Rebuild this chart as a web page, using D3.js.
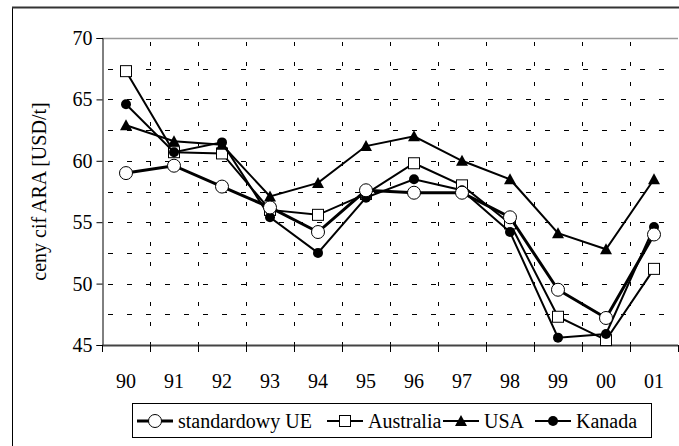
<!DOCTYPE html>
<html><head><meta charset="utf-8">
<script src="https://cdn.jsdelivr.net/npm/d3@7"></script>
<style>html,body{margin:0;padding:0;background:#fff;}svg{display:block;}</style>
</head><body>
<svg id="c" width="679" height="446"></svg>
<script>
const categories = ["90","91","92","93","94","95","96","97","98","99","00","01"];
const standardowyUE = [59.0,59.6,57.9,56.2,54.2,57.6,57.4,57.4,55.4,49.5,47.2,54.0];
const australia = [67.3,60.7,60.6,56.0,55.6,57.3,59.8,58.0,54.9,47.3,45.4,51.2];
const usa = [62.9,61.6,61.3,57.1,58.2,61.2,62.0,60.0,58.5,54.1,52.8,58.5];
const kanada = [64.6,60.7,61.5,55.4,52.5,57.0,58.5,57.6,54.2,45.6,45.9,54.6];
const yTicks = [45,50,55,60,65,70];
const yGrid = [47.5,50,52.5,55,57.5,60,62.5,65,67.5];
const seriesNames = ["standardowy UE","Australia","USA","Kanada"];

const svg = d3.select("#c");
const font = "'Liberation Serif','Times New Roman',serif";
const L=102,R=678,T=38,B=345;
const x = d3.scaleBand().domain(categories).range([L,R]).paddingInner(0).paddingOuter(0);
const cx = c => x(c)+x.bandwidth()/2;
const y = d3.scaleLinear().domain([45,70]).range([B,T]);

// outer frame
svg.append("rect").attr("x",12.5).attr("y",7.5).attr("width",720).attr("height",480)
  .attr("fill","none").attr("stroke","#000").attr("stroke-width",1);
svg.append("line").attr("x1",12).attr("x2",679).attr("y1",7.5).attr("y2",7.5)
  .attr("stroke","#333").attr("stroke-width",2);

// grid
const g = svg.append("g");
g.selectAll(".hg").data(yGrid).join("line")
  .attr("x1",L).attr("x2",R).attr("y1",d=>Math.round(y(d))+0.5).attr("y2",d=>Math.round(y(d))+0.5)
  .attr("stroke","#000").attr("stroke-width",1).attr("stroke-dasharray","5,14").attr("stroke-dashoffset",-6);
const vb = categories.slice(1).map(c=>x(c));
g.selectAll(".vg").data(vb).join("line")
  .attr("x1",d=>d+0.5).attr("x2",d=>d+0.5).attr("y1",T).attr("y2",B)
  .attr("stroke","#000").attr("stroke-width",1).attr("stroke-dasharray","4,16").attr("stroke-dashoffset",-4);
// top border
g.append("line").attr("x1",L).attr("x2",R).attr("y1",T+0.5).attr("y2",T+0.5)
  .attr("stroke","#999").attr("stroke-width",1.5);

// axes
const yAxis = d3.axisLeft(y).tickValues(yTicks).tickSize(6).tickPadding(4);
const ya = svg.append("g").attr("transform",`translate(${L+0.5},0)`).call(yAxis);
ya.select(".domain").attr("stroke","#000");
ya.selectAll("text").attr("font-family",font).attr("font-size",20).attr("fill","#000");
const xb = categories.map(c=>x(c)).concat([R]);
svg.append("line").attr("x1",L).attr("x2",R).attr("y1",B+0.5).attr("y2",B+0.5)
  .attr("stroke","#444").attr("stroke-width",2);
svg.selectAll(".xt").data(xb).join("line")
  .attr("x1",d=>d+0.5).attr("x2",d=>d+0.5).attr("y1",B).attr("y2",B+7).attr("stroke","#000");
svg.selectAll(".xl").data(categories).join("text")
  .attr("x",d=>cx(d)).attr("y",388).attr("text-anchor","middle")
  .attr("font-family",font).attr("font-size",20).text(d=>d);

svg.append("text").attr("transform",`translate(46,${(T+B)/2}) rotate(-90)`)
  .attr("text-anchor","middle").attr("font-family",font).attr("font-size",20)
  .text("ceny cif ARA [USD/t]");

// series
const line = d3.line().x((d,i)=>cx(categories[i])).y(d=>y(d));
function marker(sel, type, px, py){
  if(type==="circleOpen") sel.append("circle").attr("cx",px).attr("cy",py).attr("r",6.5).attr("fill","#fff").attr("stroke","#000").attr("stroke-width",1);
  else if(type==="square") sel.append("rect").attr("x",px-5.5).attr("y",py-5.5).attr("width",11).attr("height",11).attr("fill","#fff").attr("stroke","#000").attr("stroke-width",1);
  else if(type==="tri") sel.append("path").attr("d",`M${px},${py-6}L${px+6},${py+5}L${px-6},${py+5}Z`).attr("fill","#000");
  else sel.append("circle").attr("cx",px).attr("cy",py).attr("r",5).attr("fill","#000");
}
const series = [
  {name:seriesNames[1],vals:australia,type:"square",w:2},
  {name:seriesNames[2],vals:usa,type:"tri",w:2},
  {name:seriesNames[3],vals:kanada,type:"dot",w:2},
  {name:seriesNames[0],vals:standardowyUE,type:"circleOpen",w:3}
];
series.forEach(s=>{
  const sg = svg.append("g");
  sg.append("path").datum(s.vals).attr("d",line).attr("fill","none").attr("stroke","#000")
    .attr("stroke-width",s.w).attr("stroke-linejoin","miter");
  s.vals.forEach((v,i)=>marker(sg,s.type,cx(categories[i]),y(v)));
});

// legend
const lg = svg.append("g");
lg.append("rect").attr("x",132.5).attr("y",403.5).attr("width",519).attr("height",34)
  .attr("fill","#fff").attr("stroke","#000").attr("stroke-width",1);
const legItems = [
  {name:seriesNames[0],type:"circleOpen",w:3,x0:137},
  {name:seriesNames[1],type:"square",w:2,x0:327},
  {name:seriesNames[2],type:"tri",w:2,x0:443},
  {name:seriesNames[3],type:"dot",w:2,x0:535}
];
legItems.forEach(it=>{
  const ly=421;
  lg.append("line").attr("x1",it.x0).attr("x2",it.x0+36).attr("y1",ly).attr("y2",ly)
    .attr("stroke","#000").attr("stroke-width",it.w);
  marker(lg,it.type,it.x0+18,ly);
  lg.append("text").attr("x",it.x0+41).attr("y",428).attr("font-family",font).attr("font-size",20).text(it.name);
});
</script>
</body></html>
